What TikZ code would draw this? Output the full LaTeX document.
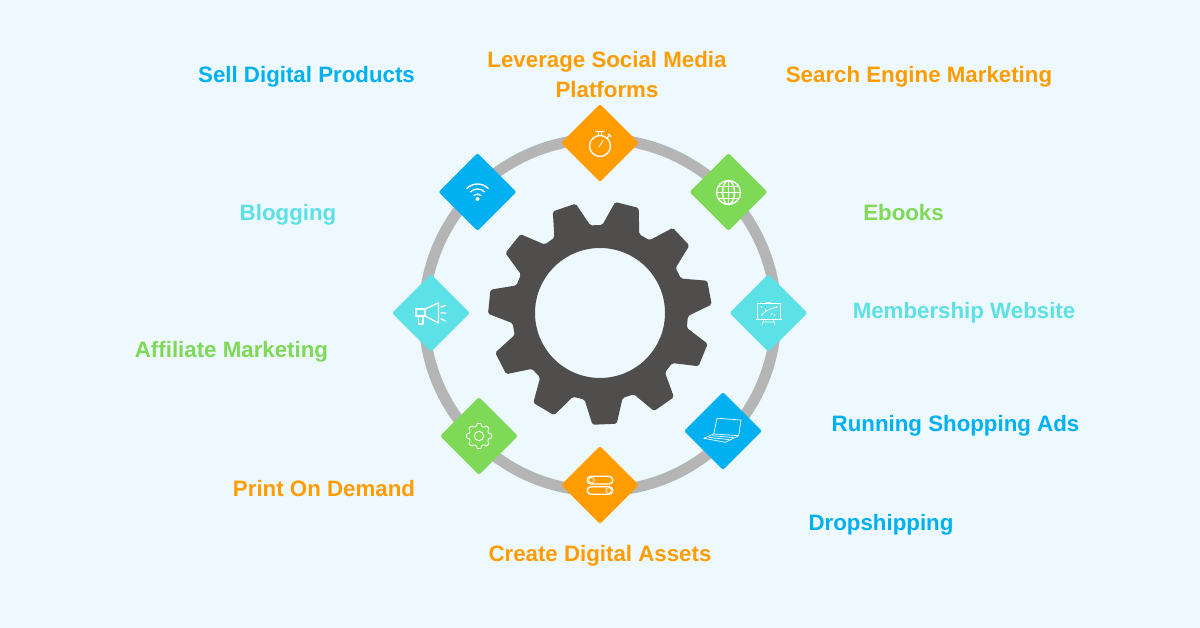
\documentclass[tikz,border=0pt]{standalone}
\usepackage{fontspec}
\setmainfont{Liberation Sans}
\usetikzlibrary{shapes.geometric}
\definecolor{pagebg}{HTML}{EEF9FF}
\definecolor{orangec}{HTML}{FF9C00}
\definecolor{bluec}{HTML}{00B0F0}
\definecolor{greenc}{HTML}{7ED957}
\definecolor{cyanc}{HTML}{5CE1E6}
\definecolor{gearc}{HTML}{504E4C}
\definecolor{ringc}{HTML}{B5B5B5}
\tikzset{
  tile/.style={diamond,aspect=1,minimum size=1.95cm,inner sep=0pt,rounded corners=1.5pt,fill=#1},
  lab/.style={font=\fontsize{15.85}{21.3}\selectfont\bfseries,text=#1,align=center,inner sep=0pt,anchor=base},
  icon/.style={draw=white,line width=0.95pt,line cap=round,line join=round},
  thin icon/.style={draw=white,line width=0.5pt,line cap=round,line join=round}
}
\begin{document}
\begin{tikzpicture}[x=0.025cm,y=-0.025cm]
\fill[pagebg] (0,0) rectangle (1200,628);
\useasboundingbox (0,0) rectangle (1200,628);
% ring
\draw[ringc,line width=11*0.025cm] (600,315) circle (176);
% gear
\begin{scope}[shift={(600,313)}]
\fill[gearc,even odd rule,rounded corners=1.2pt] (-92.36:88)
  foreach \t [evaluate=\t as \a using -76+\t*360/11] in {0,...,10} {
    -- (\a-12.5:88) -- (\a-6.2:112) -- (\a+6.2:112) -- (\a+12.5:88)
  } -- cycle (0,0) circle (65);
\end{scope}
% tiles
\node[tile=orangec] (timer) at (600,143) {};
\node[tile=bluec] (wifi) at (477.5,192) {};
\node[tile=greenc] (globe) at (728.5,192) {};
\node[tile=cyanc] (horn) at (431,313) {};
\node[tile=cyanc] (board) at (768.5,313) {};
\node[tile=greenc] (cog) at (479,436) {};
\node[tile=bluec] (laptop) at (723,431) {};
\node[tile=orangec] (toggle) at (600,485) {};
% stopwatch
\begin{scope}[shift={(600,143)}]
\draw[icon] (0,3) circle (10.5);
\draw[icon] (-4,-11.5) -- (4,-11.5) (-1.5,-11.5) -- (-1.5,-7.5) (1.5,-11.5) -- (1.5,-7.5);
\draw[icon] (7,-5) -- (10,-8) (8.5,-9) -- (11,-6.5);
\draw[icon,line width=0.6pt] (-1,4) -- (3,-2.5);
\end{scope}
% wifi
\begin{scope}[shift={(477.5,199)}]
\draw[icon] (-45:15) arc (-45:-135:15);
\draw[icon] (-45:10) arc (-45:-135:10);
\draw[icon] (-45:5) arc (-45:-135:5);
\fill[white] (0,0) circle (2);
\end{scope}
% globe
\begin{scope}[shift={(728.5,192.5)}]
\draw[icon] (0,0) circle (12);
\draw[icon] (0,-12) -- (0,12) (-12,0) -- (12,0);
\draw[icon] (0,0) ellipse (6 and 12);
\draw[icon] (-10,-6) -- (10,-6) (-10,6) -- (10,6);
\end{scope}
% megaphone
\begin{scope}[shift={(431,313)}]
\draw[icon] (-15,-4) -- (-6,-4) -- (-6,3) -- (-15,3) -- cycle;
\draw[icon] (-6,-4) -- (7.5,-10) -- (7.5,10) -- (-6,3);
\draw[icon] (-12.5,3) -- (-12.5,11) -- (-8,11) -- (-8,3);
\draw[icon] (10,-6) -- (14.5,-7.5) (10,0) -- (15,0) (10,6) -- (14.5,8);
\end{scope}
% board
\begin{scope}[shift={(768.5,313)}]
\draw[thin icon] (-11,-10) rectangle (12,6);
\draw[thin icon] (-12.5,6) -- (13,6) (-2,-11) -- (2,-11);
\draw[thin icon] (-5,7) -- (-6.5,12) (5,7) -- (6.5,12) (-5,9) -- (5,9);
\draw[thin icon] (-7,2) .. controls (-3,-3) and (3,-4) .. (8,-6);
\foreach \x/\y in {-7/-6,-3/-3,3/1,6/2,-7/2,8/-6} {\fill[white] (\x,\y) circle (1);}
\end{scope}
% cog
\begin{scope}[shift={(479,436)}]
\draw[icon,line width=0.6pt,rounded corners=0.5pt] (-22.5:10)
  foreach \t [evaluate=\t as \a using \t*45] in {0,...,7} {
    -- (\a-15:10) -- (\a-9:12.7) -- (\a+9:12.7) -- (\a+15:10)
  } -- cycle;
\draw[icon,line width=0.6pt] (0,0) circle (4.7);
\end{scope}
% laptop
\begin{scope}[shift={(723,431)}]
\draw[thin icon] (-6,-12.7) -- (18,-11) -- (15.7,4.7) -- (-9.3,3) -- cycle;
\draw[thin icon] (-19.3,7.3) -- (-9.3,3) (15.7,4.7) -- (2.3,11.3) -- (-19.3,7.3);
\draw[thin icon] (-14,6.5) -- (6,8.5) (-10,4.8) -- (10,6.5);
\end{scope}
% toggles
\begin{scope}[shift={(600,485)}]
\draw[icon] (-9,-8.7) -- (9,-8.7) arc (-90:90:3.85) -- (-9,-1) arc (90:270:3.85) -- cycle;
\draw[icon] (-9,1.7) -- (9,1.7) arc (-90:90:3.8) -- (-9,9.3) arc (90:270:3.8) -- cycle;
\draw[thin icon] (-8.5,-4.9) circle (2.8) (8.7,5.5) circle (2.8);
\end{scope}
% labels
\node[lab=bluec] (sell) at (306.5,83) {Sell Digital Products};
\node[lab=orangec,anchor=center] (social) at (607,75) {Leverage Social Media\\Platforms};
\node[lab=orangec] (search) at (919,83) {Search Engine Marketing};
\node[lab=cyanc] (blog) at (288,221) {Blogging};
\node[lab=greenc] (ebook) at (903.5,221) {Ebooks};
\node[lab=cyanc] (member) at (964,319) {Membership Website};
\node[lab=greenc] (affil) at (231.5,358) {Affiliate Marketing};
\node[lab=bluec] (shop) at (955.5,431) {Running Shopping Ads};
\node[lab=orangec] (print) at (324,496) {Print On Demand};
\node[lab=bluec] (drop) at (881,530) {Dropshipping};
\node[lab=orangec] (assets) at (600,561) {Create Digital Assets};
\end{tikzpicture}
\end{document}
